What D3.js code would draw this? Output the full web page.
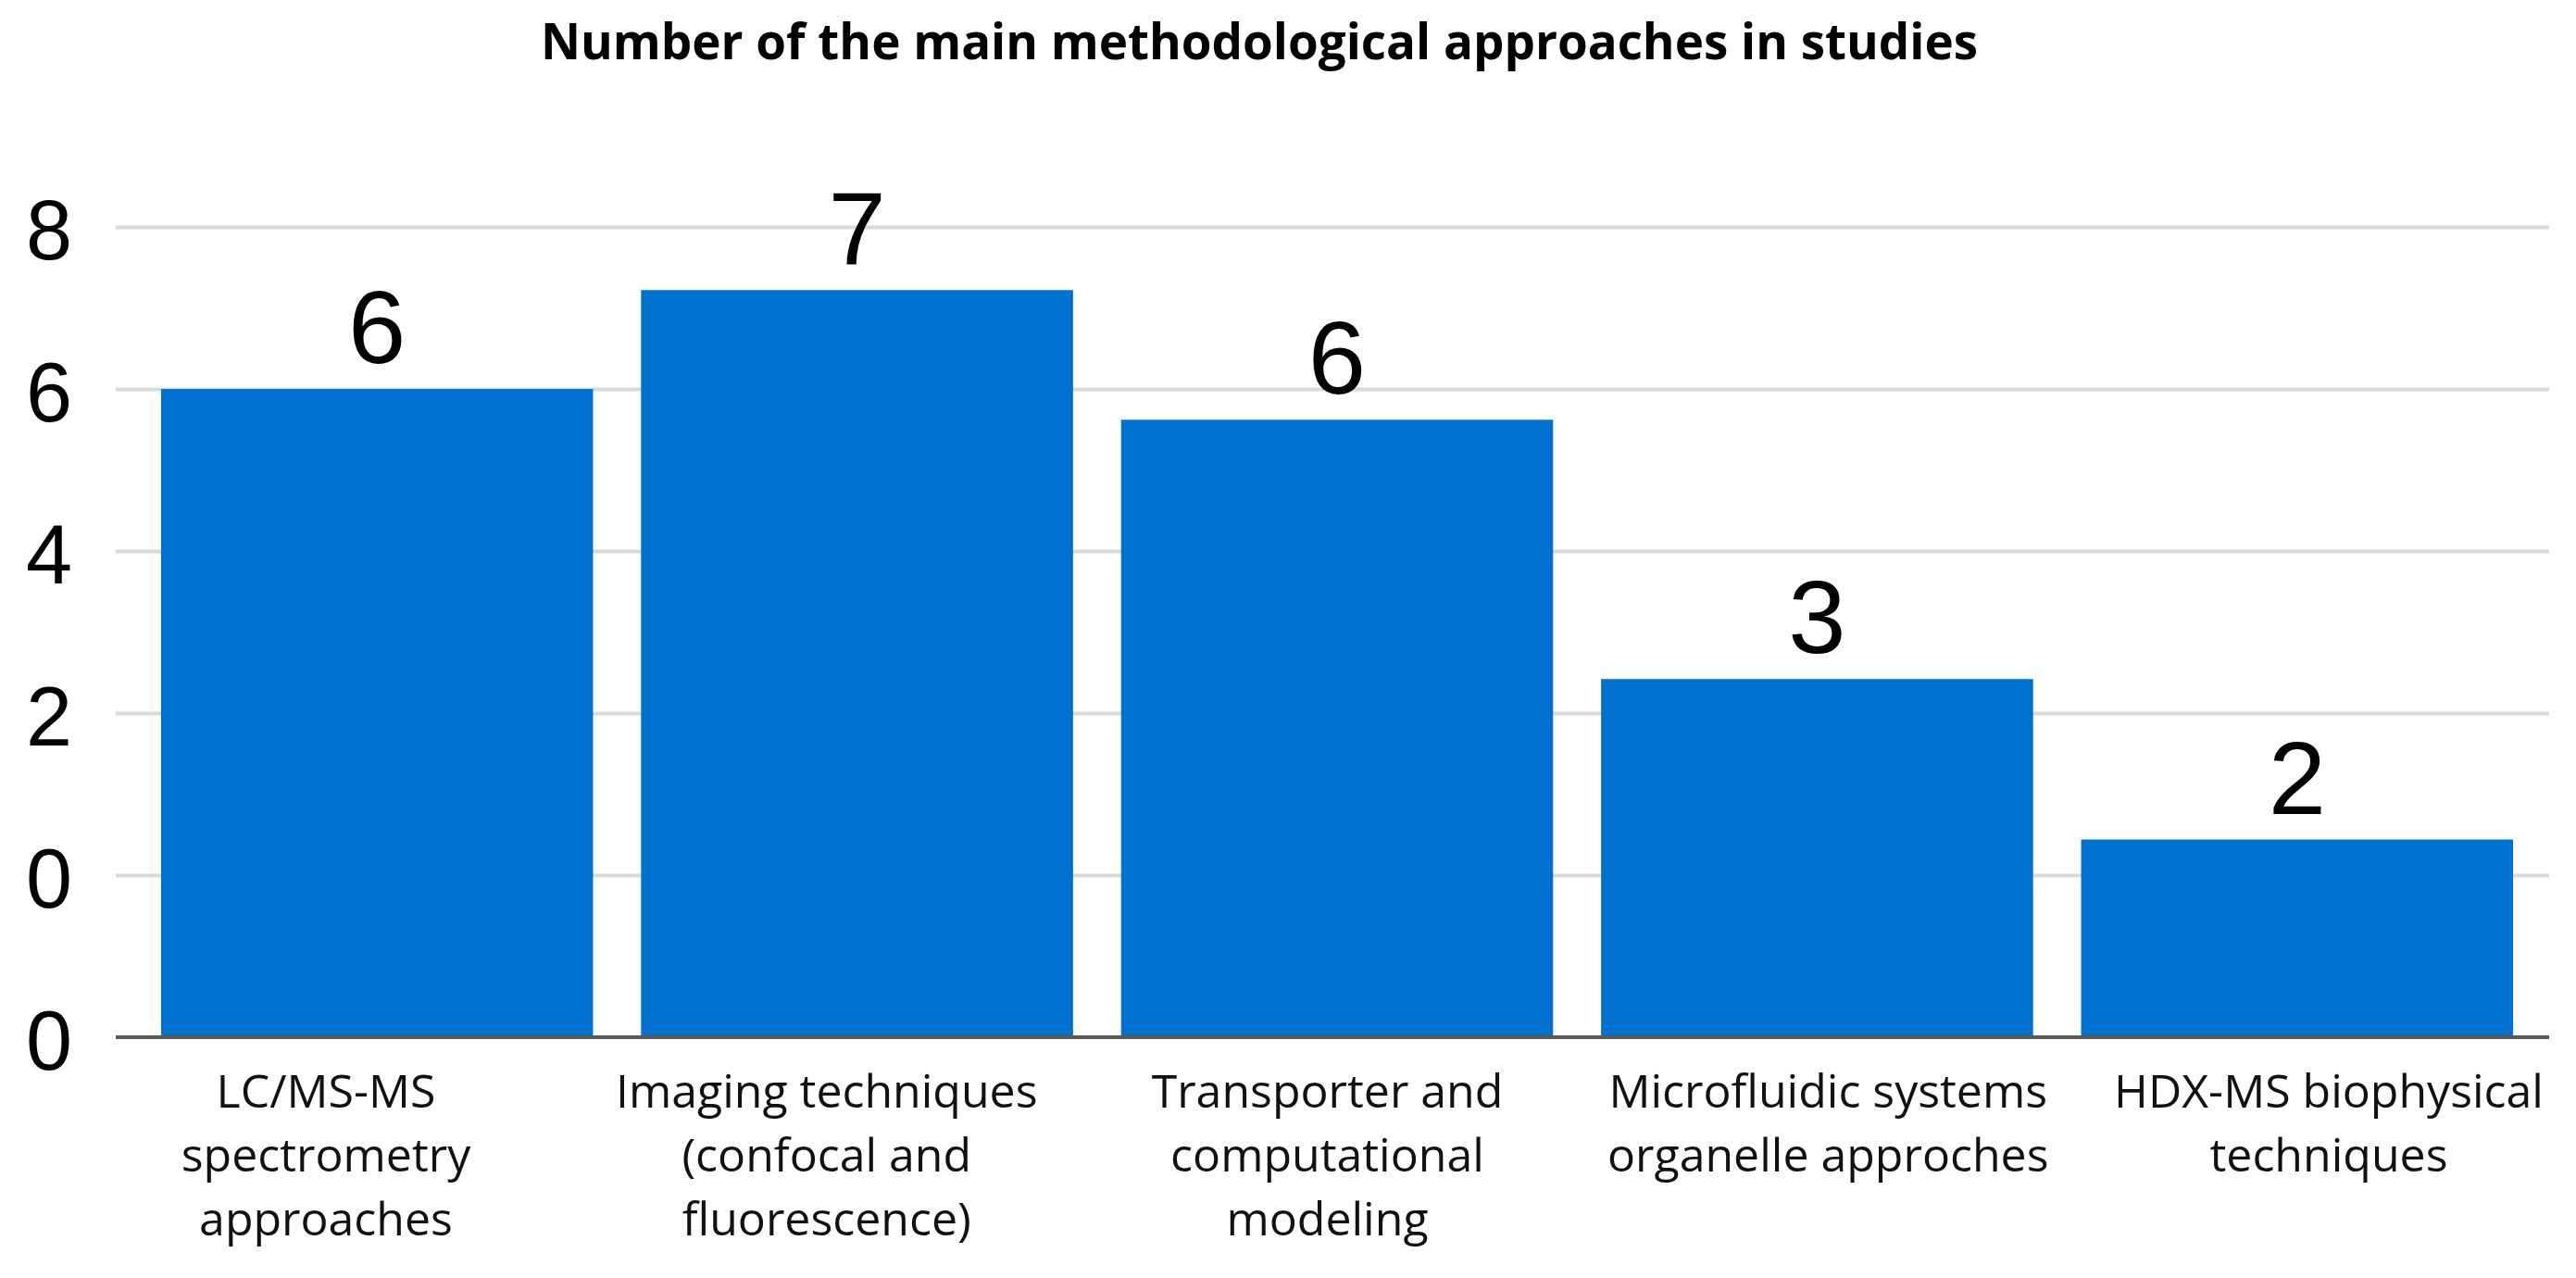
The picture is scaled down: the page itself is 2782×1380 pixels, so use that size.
<!DOCTYPE html>
<html>
<head>
<meta charset="utf-8">
<script src="https://cdn.jsdelivr.net/npm/d3@7"></script>
<style>
  body { margin: 0; background: #fff; }
</style>
</head>
<body>
<svg id="chart"></svg>
<script>
// Data
const categories = [
  'LC/MS-MS spectrometry approaches',
  'Imaging techniques (confocal and fluorescence)',
  'Transporter and computational modeling',
  'Microfluidic systems organelle approches',
  'HDX-MS biophysical techniques'
];
const categoryLines = [
  ['LC/MS-MS', 'spectrometry', 'approaches'],
  ['Imaging techniques', '(confocal and', 'fluorescence)'],
  ['Transporter and', 'computational', 'modeling'],
  ['Microfluidic systems', 'organelle approches'],
  ['HDX-MS biophysical', 'techniques']
];
// counts printed above the bars
const valueLabels = [6, 7, 6, 3, 2];
// bar tops as read against the y axis
const barHeights = [6.0, 7.22, 5.62, 2.42, 0.44];
const yTicks = [-2, 0, 2, 4, 6, 8];
const yTickLabels = ['0', '0', '2', '4', '6', '8'];
const title = 'Number of the main methodological approaches in studies';

// Dimensions
const width = 2782;
const height = 1380;
const plot = { left: 125, right: 2753, top: 245, bottom: 1120 };

const svg = d3.select('#chart')
  .attr('width', width)
  .attr('height', height)
  .style('background', '#fff');

// X scale
const x = d3.scaleBand()
  .domain(categories)
  .range([148, 2740])
  .paddingInner(0.1)
  .paddingOuter(0.05);

// label positions (the labels sit on their own spacing in the original)
const xLabel = d3.scalePoint()
  .domain(categories)
  .range([352, 2515]);

// Y scale
const y = d3.scaleLinear()
  .domain([-2, 8])
  .range([plot.bottom, plot.top]);

// Gridlines + y labels
const yAxis = svg.append('g')
  .attr('transform', `translate(${plot.left},0)`)
  .call(d3.axisLeft(y)
    .tickValues(yTicks)
    .tickSize(-(plot.right - plot.left))
    .tickPadding(47)
    .tickFormat((d, i) => yTickLabels[i]));

yAxis.select('.domain').remove();
yAxis.selectAll('.tick line')
  .attr('stroke', '#d9d9d9')
  .attr('stroke-width', 4)
  .filter(d => d === yTicks[0]).remove();
yAxis.selectAll('.tick text')
  .attr('fill', '#000')
  .attr('dy', '0.38em')
  .style('font-family', '"Liberation Sans", Arial, sans-serif')
  .style('font-size', '90px');

// Bars
svg.selectAll('.bar')
  .data(categories)
  .enter().append('rect')
  .attr('class', 'bar')
  .attr('x', d => x(d))
  .attr('y', (d, i) => y(barHeights[i]))
  .attr('width', x.bandwidth())
  .attr('height', (d, i) => y(yTicks[0]) - y(barHeights[i]))
  .attr('fill', '#0071ce');

// Value labels
svg.selectAll('.value')
  .data(categories)
  .enter().append('text')
  .attr('class', 'value')
  .attr('x', d => x(d) + x.bandwidth() / 2)
  .attr('y', (d, i) => y(barHeights[i]) - 28)
  .attr('text-anchor', 'middle')
  .style('font-family', '"Liberation Sans", Arial, sans-serif')
  .style('font-size', '112px')
  .text((d, i) => valueLabels[i]);

// X axis line
svg.append('line')
  .attr('x1', plot.left)
  .attr('x2', plot.right)
  .attr('y1', y(yTicks[0]))
  .attr('y2', y(yTicks[0]))
  .attr('stroke', '#595959')
  .attr('stroke-width', 4);

// Category labels
const catLabel = svg.selectAll('.cat')
  .data(categories)
  .enter().append('text')
  .attr('class', 'cat')
  .attr('text-anchor', 'middle')
  .style('font-family', '"Open Sans", sans-serif')
  .style('font-size', '50px')
  .attr('fill', '#111');

catLabel.selectAll('tspan')
  .data((d, i) => categoryLines[i].map(t => ({ t, c: d })))
  .enter().append('tspan')
  .attr('x', d => xLabel(d.c))
  .attr('y', (d, j) => 1196 + j * 69)
  .text(d => d.t);

// Title
svg.append('text')
  .attr('x', 1360)
  .attr('y', 64)
  .attr('text-anchor', 'middle')
  .attr('textLength', 1552)
  .attr('lengthAdjust', 'spacingAndGlyphs')
  .style('font-family', '"Open Sans", sans-serif')
  .style('font-weight', 'bold')
  .style('font-size', '54px')
  .text(title);
</script>
</body>
</html>
